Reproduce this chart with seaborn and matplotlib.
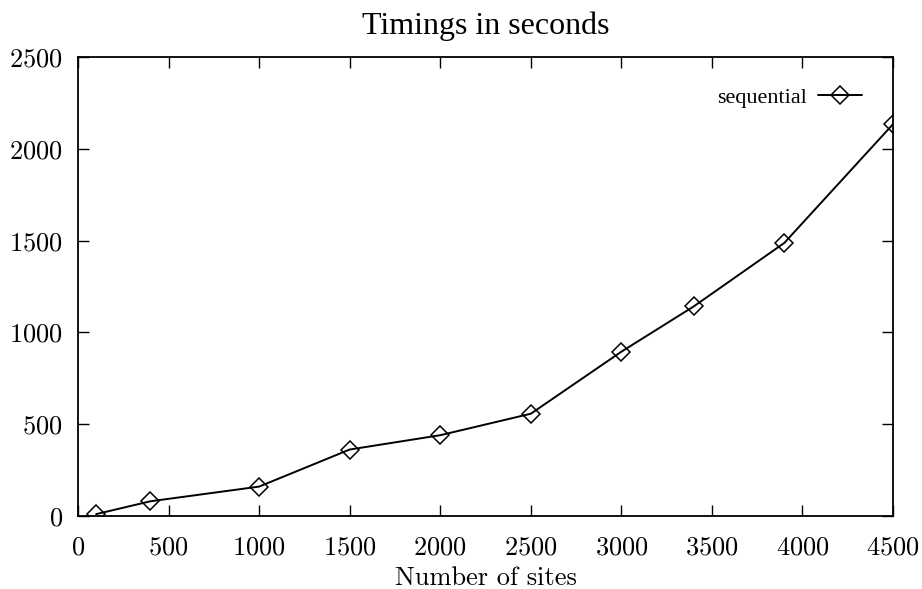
import matplotlib.pyplot as plt
import pandas as pd
import seaborn as sns

# valores
sites = [100, 400, 1000, 1500, 2000, 2500, 3000, 3400, 3900, 4500]
seconds = [10, 80, 160, 362, 440, 557, 895, 1142, 1488, 2135]
x_ticks = [0, 500, 1000, 1500, 2000, 2500, 3000, 3500, 4000, 4500]
y_ticks = [0, 500, 1000, 1500, 2000, 2500]

df = pd.DataFrame({"sites": sites, "seconds": seconds})

sns.set_theme(style="ticks")
plt.rcParams['font.family'] = ['cmr10', 'DejaVu Serif']
plt.rcParams['axes.formatter.use_mathtext'] = True
plt.rcParams['figure.dpi'] = 100
plt.rcParams['text.color'] = 'black'
plt.rcParams['axes.labelcolor'] = 'black'

fig = plt.figure(figsize=(9.22, 5.89))
ax = fig.add_axes([0.0846, 0.124, 0.8840, 0.779])

sns.lineplot(
    data=df, x="sites", y="seconds", ax=ax,
    color="black", linewidth=1.4,
    marker="D", markersize=9, markerfacecolor="none",
    markeredgecolor="black", markeredgewidth=1.1,
    label="sequential",
)

ax.set_xlim(0, 4500)
ax.set_ylim(0, 2500)
ax.set_xticks(x_ticks)
ax.set_yticks(y_ticks)
ax.tick_params(direction="in", length=8, width=1, colors="black",
               top=True, right=True, labelsize=19)
ax.tick_params(axis="x", pad=14)
ax.tick_params(axis="y", pad=11)
for spine in ax.spines.values():
    spine.set_visible(True)
    spine.set_color("black")
    spine.set_linewidth(1.3)

ax.set_title("Timings in seconds", fontsize=23, pad=17, color="black",
             family=['Liberation Serif', 'DejaVu Serif'])
ax.set_xlabel("Number of sites", fontsize=19, labelpad=5, color="black")
ax.set_ylabel("")

leg = ax.legend(loc="center right", bbox_to_anchor=(0.962, 0.911), frameon=False,
                markerfirst=False, handlelength=2.0, handletextpad=0.5,
                borderpad=0, borderaxespad=0,
                prop={"family": ['Liberation Serif', 'DejaVu Serif'], "size": 16})
for t in leg.get_texts():
    t.set_color("black")

fig.savefig("out.png", dpi=100)
